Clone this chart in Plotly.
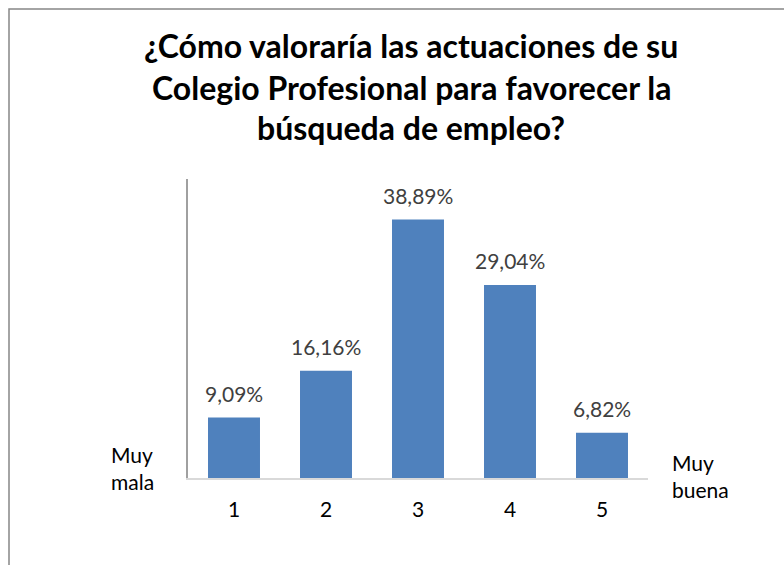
import plotly.graph_objects as go

# data
categorias = ["1", "2", "3", "4", "5"]
porcentajes = [9.09, 16.16, 38.89, 29.04, 6.82]
etiquetas = ["9,09%", "16,16%", "38,89%", "29,04%", "6,82%"]
titulo = ["¿Cómo valoraría las actuaciones de su",
          "Colegio Profesional para favorecer la",
          "búsqueda de empleo?"]

FONT = "Lato, Carlito, Calibri, sans-serif"


def px_x(p):
    return (p - 188) / 460


def px_y(p):
    return (478 - p) / 299


fig = go.Figure()
fig.add_trace(go.Bar(
    x=categorias,
    y=porcentajes,
    marker=dict(color="#4F81BD", line=dict(width=0)),
    width=0.565,
    hoverinfo="skip",
))

# data labels above bars (category index as x)
for i, (v, t) in enumerate(zip(porcentajes, etiquetas)):
    fig.add_annotation(x=i, y=v, text=t, showarrow=False, yanchor="bottom",
                       yshift=10, font=dict(family=FONT, size=21, color="#404040"))

# title, one line per annotation to keep the spacing
for line, ypx in zip(titulo, [45, 87, 128]):
    fig.add_annotation(x=px_x(411), xref="paper", y=px_y(ypx), yref="paper",
                       xanchor="center", yanchor="middle",
                       text="<b>%s</b>" % line, showarrow=False,
                       font=dict(family=FONT, size=32, color="black"))

# end labels
fig.add_annotation(x=px_x(132), xref="paper", y=px_y(468), yref="paper",
                   xanchor="center", yanchor="middle",
                   text="Muy<br>mala", showarrow=False, align="left",
                   font=dict(family=FONT, size=21, color="black"))
fig.add_annotation(x=px_x(700), xref="paper", y=px_y(476), yref="paper",
                   xanchor="center", yanchor="middle",
                   text="Muy<br>buena", showarrow=False, align="left",
                   font=dict(family=FONT, size=21, color="black"))

# outer frame
fig.add_shape(type="rect", xref="paper", yref="paper",
              x0=px_x(9), x1=px_x(800), y0=px_y(580), y1=px_y(9),
              line=dict(color="#878787", width=1.5), fillcolor="rgba(0,0,0,0)")

fig.update_layout(
    width=784, height=565,
    margin=dict(l=188, r=136, t=179, b=87),
    paper_bgcolor="white", plot_bgcolor="white",
    showlegend=False,
    font=dict(family=FONT),
    xaxis=dict(type="category", range=[-0.5, 4.5], showline=True,
               linecolor="#D9D9D9", linewidth=2, showgrid=False,
               ticks="", ticklabelstandoff=12,
               tickfont=dict(family=FONT, size=21, color="black")),
    yaxis=dict(range=[0, 45], showline=True, linecolor="#A0A0A0", linewidth=2,
               showgrid=False, zeroline=False, showticklabels=False, ticks=""),
)

fig.write_html("out.html", config={"displayModeBar": False},
               post_script="document.body.style.margin='0';")
